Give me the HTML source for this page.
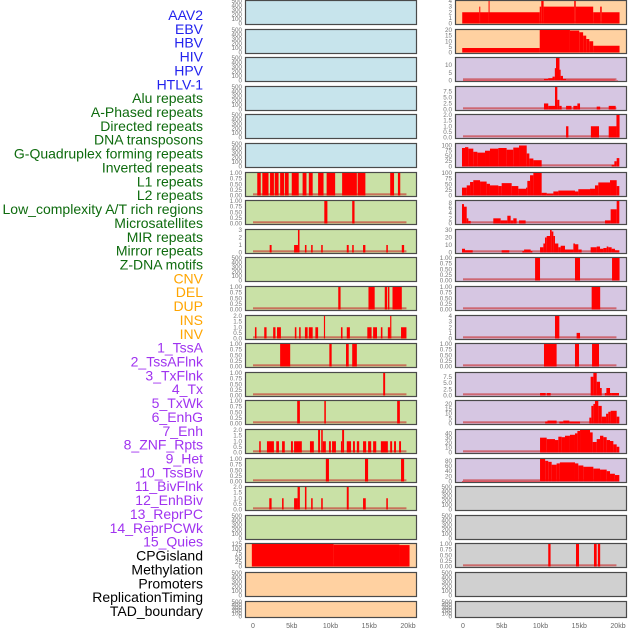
<!DOCTYPE html>
<html><head><meta charset="utf-8">
<style>
html,body{margin:0;padding:0;background:#fff;}
svg{display:block;font-family:"Liberation Sans",sans-serif;}
</style></head>
<body>
<svg id="chart" width="630" height="630" viewBox="0 0 630 630" xmlns="http://www.w3.org/2000/svg"></svg>
<script>
// ---------------- data ----------------
const trackLabels = ["AAV2","EBV","HBV","HIV","HPV","HTLV-1","Alu repeats","A-Phased repeats","Directed repeats","DNA transposons","G-Quadruplex forming repeats","Inverted repeats","L1 repeats","L2 repeats","Low_complexity A/T rich regions","Microsatellites","MIR repeats","Mirror repeats","Z-DNA motifs","CNV","DEL","DUP","INS","INV","1_TssA","2_TssAFlnk","3_TxFlnk","4_Tx","5_TxWk","6_EnhG","7_Enh","8_ZNF_Rpts","9_Het","10_TssBiv","11_BivFlnk","12_EnhBiv","13_ReprPC","14_ReprPCWk","15_Quies","CPGisland","Methylation","Promoters","ReplicationTiming","TAD_boundary"];
const labelColors = ["#2222ee","#2222ee","#2222ee","#2222ee","#2222ee","#2222ee","#0e6b0e","#0e6b0e","#0e6b0e","#0e6b0e","#0e6b0e","#0e6b0e","#0e6b0e","#0e6b0e","#0e6b0e","#0e6b0e","#0e6b0e","#0e6b0e","#0e6b0e","#ffa500","#ffa500","#ffa500","#ffa500","#ffa500","#a033f0","#a033f0","#a033f0","#a033f0","#a033f0","#a033f0","#a033f0","#a033f0","#a033f0","#a033f0","#a033f0","#a033f0","#a033f0","#a033f0","#a033f0","#000","#000","#000","#000","#000"];
const xTickValues = [0,5,10,15,20];
const xTickLabels = ["0","5kb","10kb","15kb","20kb"];

const T_EMPTY = ["0","100","200","300","400","500"];
const T_ONE = ["0.00","0.25","0.50","0.75","1.00"];
const T_TWO = ["0.0","0.5","1.0","1.5","2.0"];

// left column
const segL06 = [[0.55,1.0,1],[1.2,2.0,1],[2.2,2.7,1],[2.8,3.3,1],[3.5,4.0,1],[4.1,4.6,1],[5.0,5.9,1],[6.4,6.9,1],[7.2,7.7,1],[8.4,9.1,1],[9.5,10.6,1],[11.5,13.4,1],[13.5,14.5,1],[17.7,18.2,1],[18.7,19.0,1]];
const segL07 = [[9.2,9.6,1],[12.8,13.1,1]];
const segL08 = [[2.15,2.4,1],[5.3,5.8,1],[5.8,6.0,3],[6.7,6.9,1],[7.5,7.7,1],[8.8,9.0,1],[12.1,12.35,1],[12.8,13.0,1],[14.2,14.5,1],[17.2,17.4,1],[19.2,19.5,1]];
const segL10 = [[11.0,11.3,1],[14.9,15.7,1],[17.0,17.3,1],[17.4,17.6,1],[18.0,19.2,1]];
const segL11 = [[0.25,0.45,1],[1.45,1.75,1],[2.6,2.9,1],[3.1,3.6,1],[5.4,5.6,1],[5.95,6.15,1],[6.7,7.05,1],[7.2,7.7,1],[8.05,8.4,1],[9.15,9.3,2],[11.35,11.55,1],[12.1,12.5,1],[14.75,15.3,1],[15.5,16.0,1],[16.5,16.7,1],[17.4,17.7,1],[17.7,17.85,2],[19.1,19.8,1]];
const segL12 = [[3.5,4.8,1],[9.85,10.15,1],[12.0,12.35,1],[12.8,13.4,1]];
const segL13 = [[16.8,17.05,1]];
const segL14 = [[5.7,6.05,1],[9.2,9.4,1],[18.6,18.95,1]];
const segL15 = [[0.8,1.0,1],[1.8,2.7,1],[3.0,3.35,1],[3.75,4.1,1],[4.9,5.15,1],[5.3,6.3,1],[7.35,7.85,1],[8.4,8.65,2],[8.8,9.0,2],[9.0,9.4,1],[9.8,10.05,1],[10.2,10.7,1],[11.35,11.5,1],[11.5,11.75,2],[12.1,12.65,1],[12.9,13.15,1],[13.4,13.7,1],[14.2,14.6,1],[14.85,15.25,1],[15.5,15.9,1],[16.5,17.4,1],[17.7,17.95,1],[18.2,18.45,1],[18.85,19.1,1]];
const segL16 = [[9.4,9.8,1],[14.45,14.85,1],[19.1,19.5,1]];
const segL17 = [[2.1,2.4,1],[3.75,3.95,1],[5.3,5.75,1],[5.75,6.05,2],[6.7,6.9,2],[7.5,7.7,1],[8.8,9.0,1],[12.1,12.35,2],[14.2,14.55,1],[17.2,17.4,1]];
const segL19 = [[-0.15,10.4,125],[10.4,18.9,122],[18.9,20.2,119]];

// right column
const segR00 = [[-0.1,2.1,2],[2.1,2.2,3],[2.2,3.3,2],[3.3,3.4,4],[3.4,9.9,2],[9.9,10.1,3],[10.1,10.4,4],[10.4,14.35,3],[14.35,14.55,4],[14.55,16.8,3],[16.8,17.7,2],[17.7,17.9,3],[17.9,20.2,2]];
const segR01 = [[-0.1,9.9,4],[9.9,13.8,20],[13.8,15.0,19.5],[15.0,15.5,18],[15.5,15.9,15],[15.9,16.3,12],[16.3,16.8,10],[16.8,20.2,6]];
const segR02 = [[0,10.45,0.3],[10.45,11.0,1],[11.0,11.55,1.5],[11.55,11.85,2.5],[11.85,12.0,8],[12.0,12.45,14.6],[12.45,12.6,7],[12.6,12.9,3],[12.9,13.3,1],[13.3,19.6,0.5],[19.6,20.0,0.2]];
const segR03 = [[10.45,11.0,2.5],[11.0,11.87,1.5],[11.87,12.17,9.3],[12.17,12.43,4],[12.43,12.73,1.5],[13.3,14.0,1.5],[14.24,14.76,1.5],[14.76,15.1,2.5],[17.25,17.7,1.2],[18.8,19.7,1.5]];
const segR04 = [[13.3,13.6,1],[16.5,17.55,1],[18.8,19.8,1],[19.8,20.2,2]];
const segR05 = [[-0.13,0.26,88],[0.26,0.69,92],[0.69,1.33,85],[1.33,1.85,70],[1.85,2.84,66],[2.84,3.48,75],[3.48,4.56,85],[4.56,5.63,88],[5.63,6.49,80],[6.49,7.23,90],[7.23,8.22,100],[8.22,8.56,62],[8.56,9.08,38],[9.08,10.15,30],[19.18,19.53,8],[19.53,19.83,25],[19.83,20.17,40]];
const segR06 = [[-0.13,0.48,35],[0.48,0.91,45],[0.91,1.33,60],[1.33,2.2,68],[2.2,3.05,62],[3.05,3.48,52],[3.48,4.56,45],[4.56,4.99,42],[4.99,6.28,55],[6.28,7.14,42],[7.14,8.13,30],[8.13,8.3,35],[8.3,8.65,65],[8.65,9.08,90],[9.08,10.15,100],[10.15,10.8,12],[10.8,11.66,8],[11.66,12.3,18],[12.3,14.45,22],[14.45,14.88,18],[14.88,16.39,28],[16.39,17.03,30],[17.03,17.46,45],[17.46,18.97,58],[18.97,19.83,68],[19.83,20.17,42]];
const segR07 = [[-0.13,0.13,7.5],[0.13,0.48,6.5],[0.48,0.69,2],[0.69,0.99,1],[3.91,4.86,2],[4.86,5.72,1.2],[5.72,6.15,3],[6.15,6.49,1.2],[6.49,6.92,2],[7.23,8.08,1.2],[18.32,19.05,1.2],[19.05,19.83,5.5],[19.83,20.17,8.7]];
const segR08 = [[-0.13,0.26,5],[0.26,1.25,3],[4.99,5.97,3],[7.66,7.88,2],[7.88,8.73,4],[8.73,8.95,2],[9.94,10.37,7],[10.37,10.58,12],[10.58,10.8,20],[10.8,11.23,22],[11.23,11.44,30],[11.44,11.66,28],[11.66,11.87,22],[11.87,12.3,12],[12.3,12.6,7],[12.6,13.16,9],[13.16,14.24,4],[14.24,14.45,12],[14.45,14.88,11],[14.88,15.31,4],[16.47,17.25,7],[17.25,17.68,8],[17.68,18.11,5],[18.11,18.54,6],[18.54,18.75,8],[18.75,19.18,7],[19.18,19.61,5],[19.61,20.17,3]];
const segR09 = [[9.3,9.94,1],[14.45,15.1,1],[19.23,20.2,1]];
const segR10 = [[16.6,17.7,1]];
const segR11 = [[11.87,12.43,4],[14.66,15.1,1]];
const segR12 = [[10.45,12.08,1],[14.45,14.97,1],[16.65,17.55,1]];
const segR13 = [[9.94,10.67,1],[10.8,11.31,1],[16.47,16.82,7.5],[16.82,17.25,9],[17.25,17.68,5.5],[17.68,17.9,3],[18.3,18.5,1],[18.5,18.97,3],[18.97,19.18,1],[19.18,20.13,1]];
const segR14 = [[10.6,10.9,2],[10.9,12.08,3],[12.43,12.94,2],[12.94,13.72,3],[13.72,15.1,2],[16.3,16.56,6],[16.56,16.82,18],[16.82,17.03,20],[17.03,17.46,23],[17.46,17.9,18],[17.9,18.46,7],[18.46,18.75,10],[18.75,19.05,12],[19.05,19.83,13],[19.83,20.17,7]];
const segR15 = [[9.94,10.8,31],[10.8,11.87,28],[11.87,12.3,26],[12.3,12.73,33],[12.73,13.16,32],[13.16,13.8,35],[13.8,14.45,37],[14.45,14.76,40],[14.76,15.1,45],[15.1,16.39,47],[16.39,16.73,42],[16.73,17.25,22],[17.25,17.68,28],[17.68,18.11,35],[18.11,18.54,32],[18.54,18.97,26],[18.97,19.4,24],[19.4,19.83,17],[19.83,20.17,12]];
const segR16 = [[-0.13,9.94,2],[9.94,10.6,87],[10.6,11.0,80],[11.0,11.44,76],[11.44,12.08,65],[12.08,12.5,70],[12.5,14.45,74],[14.45,14.88,70],[14.88,15.53,62],[15.53,16.82,57],[16.82,17.68,50],[17.68,18.54,46],[18.54,18.97,40],[18.97,19.6,30],[19.6,20.17,25]];
const segR19 = [[11.0,11.3,1],[14.58,14.97,1],[16.9,17.25,1],[17.4,17.7,1]];

const panelSegments = [
  null,null,null,null,null,null,segL06,segL07,segL08,null,segL10,segL11,segL12,segL13,segL14,segL15,segL16,segL17,null,segL19,null,null,
  segR00,segR01,segR02,segR03,segR04,segR05,segR06,segR07,segR08,segR09,segR10,segR11,segR12,segR13,segR14,segR15,segR16,null,null,segR19,null,null
];
const panelYMax = [
  500,500,500,500,500,500,1,1,3,500,1,2,1,1,1,2,1,2,500,125,500,500,
  4,20,14.6,9.3,2,107,100,8.7,30,1,1,4,1,9,23,47,87,500,500,1,500,500
];
const panelTicks = [
  T_EMPTY,T_EMPTY,T_EMPTY,T_EMPTY,T_EMPTY,T_EMPTY,T_ONE,T_ONE,["0","1","2","3"],T_EMPTY,T_ONE,T_TWO,T_ONE,T_ONE,T_ONE,T_TWO,T_ONE,T_TWO,T_EMPTY,["0","25","50","75","100","125"],T_EMPTY,T_EMPTY,
  ["0","1","2","3","4"],["0","5","10","15","20"],["0","5","10"],["0.0","2.5","5.0","7.5"],T_TWO,["0","25","50","75","100"],["0","25","50","75","100"],["0","2","4","6","8"],["0","10","20","30"],T_ONE,T_ONE,["0","1","2","3","4"],T_ONE,["0.0","2.5","5.0","7.5"],["0","5","10","15","20"],["0","10","20","30","40"],["0","20","40","60","80"],T_EMPTY,T_EMPTY,T_ONE,T_EMPTY,T_EMPTY
];
const panelColors = [].concat(
  Array(6).fill("#c7e4ec"), Array(13).fill("#c9e1a6"), Array(3).fill("#ffd1a1"),
  Array(2).fill("#ffd1a1"), Array(15).fill("#d6c6e2"), Array(5).fill("#d0d0d0"));

// ---------------- drawing ----------------
const NS = "http://www.w3.org/2000/svg";
const svg = document.getElementById("chart");
function mk(tag, attrs, parent){
  const e = document.createElementNS(NS, tag);
  for (const k in attrs) e.setAttribute(k, attrs[k]);
  (parent||svg).appendChild(e);
  return e;
}
const colLeft = [245, 455];
const panelW = 171;
const zeroX = [253, 463];
const pxPerKb = 7.75;
function xScale(col, kb){ return zeroX[col] + kb*pxPerKb; }
function rowTop(r){ return Math.round(r*28.6); }
function rowH(r){ return r===21 ? 16 : 24; }

// labels
trackLabels.forEach((t,i)=>{
  const tx = mk("text",{x:203,y:15+i*13.86+5,"text-anchor":"end","font-size":"14",fill:labelColors[i]});
  
  
  tx.textContent = t;
});

for (let p=0;p<44;p++){
  const col = p<22?0:1, r = p%22;
  const top = rowTop(r), h = rowH(r);
  const g = mk("g",{});
  
  
  const bg = mk("rect",{x:colLeft[col]+0.5,y:top+0.5,width:panelW,height:h,fill:panelColors[p],stroke:"#4a4a4a","stroke-width":1.2},g);
  
  
  const yMax = panelYMax[p];
  const yb = top + h - 0.5, yt = top + 1;
  const yScale = v => yb - (v/yMax)*(yb-yt);
  const ticks = panelTicks[p];
  ticks.forEach(s=>{
    const v = parseFloat(s);
    const tl = mk("text",{x:colLeft[col]-3,y:yScale(v)+2,"text-anchor":"end","font-size":"6.3",fill:"#777"},g);
    
    
    tl.textContent = s;
  });
  const segs = panelSegments[p];
  if (segs){
    const base = mk("rect",{x:xScale(col,0),y:yb-2.2,width:xScale(col,19.8)-xScale(col,0),height:2,fill:"rgba(200,40,40,0.6)"},g);
    
    
    segs.forEach(s=>{
      const x0 = xScale(col,s[0]), x1 = xScale(col,s[1]);
      const y = yScale(Math.min(s[2],yMax));
      const b = mk("rect",{x:x0,y:y,width:Math.max(x1-x0,1),height:yb-y,fill:"#ff0000"},g);
      
      
    });
  }
}
// x axis
[0,1].forEach(col=>{
  xTickValues.forEach((v,i)=>{
    const t = mk("text",{x:xScale(col,v),y:628,"text-anchor":"middle","font-size":"7",fill:"#666"});
    
    
    t.textContent = xTickLabels[i];
  });
});
</script>
</body></html>
